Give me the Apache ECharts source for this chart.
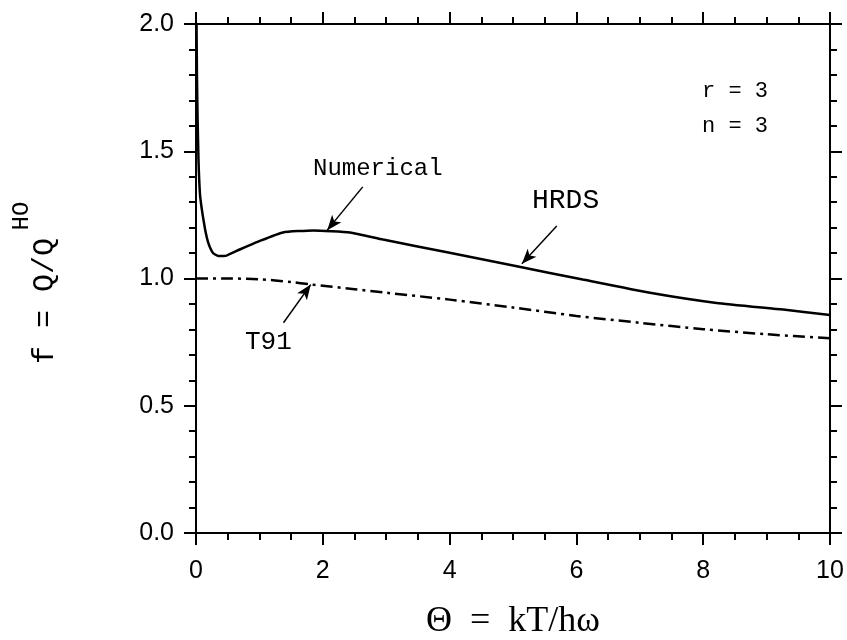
<!DOCTYPE html>
<html>
<head>
<meta charset="utf-8">
<script src="https://cdn.jsdelivr.net/npm/echarts@6/dist/echarts.min.js"></script>
<style>
  html, body { margin: 0; padding: 0; background: #fff; }
  #chart { width: 847px; height: 640px; }
</style>
</head>
<body>
<div id="chart"></div>
<script>
// numerical / HRDS curve (solid)
const numX = [0.005, 0.015, 0.025, 0.04, 0.063, 0.09, 0.115, 0.15, 0.19, 0.23, 0.27, 0.35, 0.48, 0.69, 1.0, 1.37, 1.85, 2.43, 2.95, 4.0, 5.06, 6.1, 7.16, 8.21, 9.26, 10];
const numY = [2.1, 1.8, 1.63, 1.46, 1.33, 1.275, 1.235, 1.185, 1.143, 1.117, 1.10, 1.088, 1.09, 1.114, 1.147, 1.181, 1.189, 1.181, 1.153, 1.101, 1.048, 0.996, 0.944, 0.904, 0.878, 0.857];
// T91 curve (dash-dot)
const t91X = [0, 0.5, 1.0, 1.5, 1.8, 2.5, 3, 4, 5, 6, 7, 8, 9, 10];
const t91Y = [1.0, 1.0, 0.997, 0.986, 0.977, 0.958, 0.944, 0.917, 0.886, 0.853, 0.826, 0.801, 0.781, 0.765];

// annotation arrows: [tailX, tailY, tipX, tipY] in data units
const arrowNum = [2.63, 1.36, 2.07, 1.19];
const arrowHrds = [5.69, 1.206, 5.14, 1.058];
const arrowT91 = [1.38, 0.826, 1.81, 0.976];

const xMin = 0, xMax = 10, xStep = 2;
const yMin = 0, yMax = 2, yStep = 0.5;

const mono = '"Liberation Mono", "DejaVu Sans Mono", monospace';
const sans = '"Liberation Sans", Arial, sans-serif';
const serif = '"Liberation Serif", "DejaVu Serif", serif';

function pairs(xs, ys) {
    return xs.map((x, i) => [x, ys[i]]);
}
function arrow(a) {
    return [
        { coord: [a[0], a[1]], symbol: 'none' },
        { coord: [a[2], a[3]], symbol: 'arrow', symbolSize: [9, 15] }
    ];
}

const axisLine = { show: true, onZero: false, lineStyle: { color: '#000', width: 2 } };
const tick = { show: true, length: 12, lineStyle: { color: '#000', width: 2 } };

const chart = echarts.init(document.getElementById('chart'));
chart.setOption({
    animation: false,
    backgroundColor: '#fff',
    grid: { left: 196, right: 17, top: 24, bottom: 107 },
    xAxis: [
        {
            type: 'value', position: 'bottom', min: xMin, max: xMax, interval: xStep,
            axisLine: axisLine, axisTick: tick,
            minorTick: { show: true, splitNumber: 4, length: 7, lineStyle: { color: '#000', width: 2 } },
            splitLine: { show: false },
            axisLabel: { color: '#000', fontFamily: sans, fontSize: 25, margin: 26 }
        },
        {
            type: 'value', position: 'top', min: xMin, max: xMax, interval: xStep,
            axisLine: axisLine, axisTick: tick,
            minorTick: { show: true, splitNumber: 4, length: 7, lineStyle: { color: '#000', width: 2 } },
            splitLine: { show: false },
            axisLabel: { show: false }
        }
    ],
    yAxis: [
        {
            type: 'value', position: 'left', min: yMin, max: yMax, interval: yStep,
            axisLine: axisLine, axisTick: tick,
            minorTick: { show: true, splitNumber: 5, length: 7, lineStyle: { color: '#000', width: 2 } },
            splitLine: { show: false },
            axisLabel: { color: '#000', fontFamily: sans, fontSize: 25, margin: 22,
                formatter: v => v.toFixed(1) }
        },
        {
            type: 'value', position: 'right', min: yMin, max: yMax, interval: yStep,
            axisLine: axisLine, axisTick: tick,
            minorTick: { show: true, splitNumber: 5, length: 7, lineStyle: { color: '#000', width: 2 } },
            splitLine: { show: false },
            axisLabel: { show: false }
        }
    ],
    series: [
        {
            name: 'Numerical',
            type: 'line',
            data: pairs(numX, numY),
            showSymbol: false,
            smooth: 0.15,
            clip: true,
            lineStyle: { color: '#000', width: 2.5 },
            markLine: {
                silent: true,
                symbol: ['none', 'arrow'],
                label: { show: false },
                lineStyle: { color: '#000', width: 1.5, type: 'solid' },
                data: [arrow(arrowNum), arrow(arrowHrds), arrow(arrowT91)]
            }
        },
        {
            name: 'T91',
            type: 'line',
            data: pairs(t91X, t91Y),
            showSymbol: false,
            smooth: 0.3,
            lineStyle: { color: '#000', width: 2.5, type: [12, 5, 3, 5] }
        }
    ],
    graphic: [
        { type: 'text', left: 313, top: 157,
          style: { text: 'Numerical', font: '24px ' + mono, fill: '#000' } },
        { type: 'text', left: 532, top: 187,
          style: { text: 'HRDS', font: '28px ' + mono, fill: '#000' } },
        { type: 'text', left: 245, top: 329,
          style: { text: 'T91', font: '26px ' + mono, fill: '#000' } },
        { type: 'text', left: 702, top: 80,
          style: { text: 'r = 3', font: '22px ' + mono, fill: '#000' } },
        { type: 'text', left: 702, top: 115,
          style: { text: 'n = 3', font: '22px ' + mono, fill: '#000' } },
        { type: 'text', x: 45, y: 301, rotation: Math.PI / 2,
          style: { text: 'f = Q/Q', font: '30px ' + mono, fill: '#000',
                   textAlign: 'center', textVerticalAlign: 'middle' } },
        { type: 'text', x: 22, y: 216, rotation: Math.PI / 2,
          style: { text: 'HO', font: '24px ' + mono, fill: '#000',
                   textAlign: 'center', textVerticalAlign: 'middle' } },
        { type: 'text', x: 513, y: 622,
          style: { text: 'Θ  =  kT/hω', font: '36px ' + serif, fill: '#000',
                   textAlign: 'center', textVerticalAlign: 'middle' } }
    ]
});
</script>
</body>
</html>
